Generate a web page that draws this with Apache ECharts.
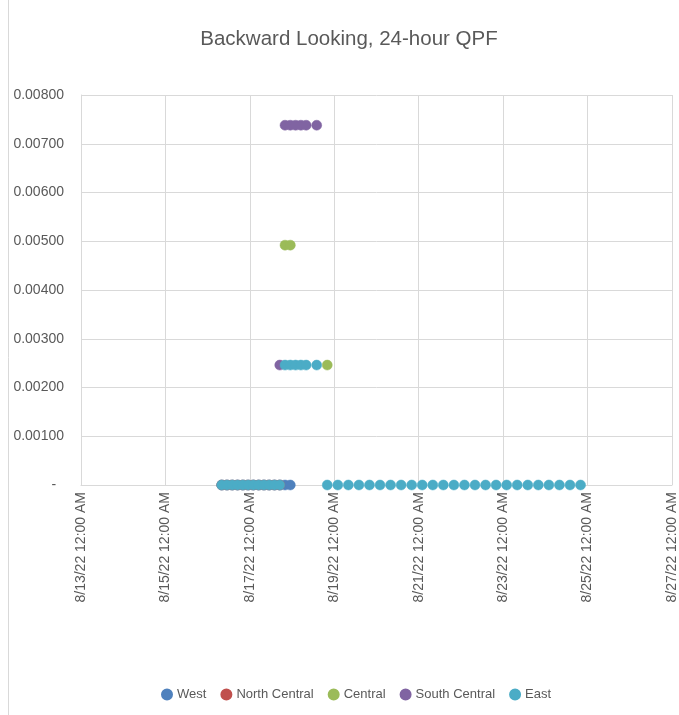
<!DOCTYPE html>
<html>
<head>
<meta charset="utf-8">
<script src="https://cdn.jsdelivr.net/npm/echarts@6/dist/echarts.min.js"></script>
<style>html,body{margin:0;padding:0;background:#fff;}#c{width:679px;height:715px;}</style>
</head>
<body>
<div id="c"></div>
<script>
const seriesNames = ['West', 'North Central', 'Central', 'South Central', 'East'];
const seriesColors = ['#4F81BD', '#C0504D', '#9BBB59', '#8064A2', '#4BACC6'];
const yTicks = [0, 0.001, 0.002, 0.003, 0.004, 0.005, 0.006, 0.007, 0.008];
const xMin = '2022-08-13 00:00';
const xMax = '2022-08-27 00:00';

const westData = [
  ['2022-08-16 08:00', 0], ['2022-08-16 11:00', 0], ['2022-08-16 14:00', 0], ['2022-08-16 17:00', 0],
  ['2022-08-16 20:00', 0], ['2022-08-16 23:00', 0], ['2022-08-17 02:00', 0], ['2022-08-17 05:00', 0],
  ['2022-08-17 08:00', 0], ['2022-08-17 11:00', 0], ['2022-08-17 14:00', 0], ['2022-08-17 17:00', 0],
  ['2022-08-17 20:00', 0], ['2022-08-17 23:00', 0]
];
const northCentralData = [
  ['2022-08-16 08:00', 0], ['2022-08-16 11:00', 0], ['2022-08-16 14:00', 0], ['2022-08-16 17:00', 0],
  ['2022-08-16 20:00', 0], ['2022-08-16 23:00', 0], ['2022-08-17 02:00', 0], ['2022-08-17 05:00', 0],
  ['2022-08-17 08:00', 0], ['2022-08-17 11:00', 0], ['2022-08-17 14:00', 0], ['2022-08-17 17:00', 0]
];
const centralData = [
  ['2022-08-17 20:00', 0.00492], ['2022-08-17 23:00', 0.00492], ['2022-08-18 20:00', 0.00246]
];
const southCentralData = [
  ['2022-08-17 17:00', 0.00246],
  ['2022-08-17 20:00', 0.00738], ['2022-08-17 23:00', 0.00738], ['2022-08-18 02:00', 0.00738],
  ['2022-08-18 05:00', 0.00738], ['2022-08-18 08:00', 0.00738], ['2022-08-18 14:00', 0.00738]
];
const eastData = [
  ['2022-08-16 08:00', 0], ['2022-08-16 11:00', 0], ['2022-08-16 14:00', 0], ['2022-08-16 17:00', 0],
  ['2022-08-16 20:00', 0], ['2022-08-16 23:00', 0], ['2022-08-17 02:00', 0], ['2022-08-17 05:00', 0],
  ['2022-08-17 08:00', 0], ['2022-08-17 11:00', 0], ['2022-08-17 14:00', 0], ['2022-08-17 17:00', 0],
  ['2022-08-17 20:00', 0.00246], ['2022-08-17 23:00', 0.00246], ['2022-08-18 02:00', 0.00246],
  ['2022-08-18 05:00', 0.00246], ['2022-08-18 08:00', 0.00246], ['2022-08-18 14:00', 0.00246],
  ['2022-08-18 20:00', 0], ['2022-08-19 02:00', 0], ['2022-08-19 08:00', 0], ['2022-08-19 14:00', 0],
  ['2022-08-19 20:00', 0], ['2022-08-20 02:00', 0], ['2022-08-20 08:00', 0], ['2022-08-20 14:00', 0],
  ['2022-08-20 20:00', 0], ['2022-08-21 02:00', 0], ['2022-08-21 08:00', 0], ['2022-08-21 14:00', 0],
  ['2022-08-21 20:00', 0], ['2022-08-22 02:00', 0], ['2022-08-22 08:00', 0], ['2022-08-22 14:00', 0],
  ['2022-08-22 20:00', 0], ['2022-08-23 02:00', 0], ['2022-08-23 08:00', 0], ['2022-08-23 14:00', 0],
  ['2022-08-23 20:00', 0], ['2022-08-24 02:00', 0], ['2022-08-24 08:00', 0], ['2022-08-24 14:00', 0],
  ['2022-08-24 20:00', 0]
];
const allData = [westData, northCentralData, centralData, southCentralData, eastData];

const chart = echarts.init(document.getElementById('c'), null, {renderer: 'canvas'});
const font = 'Liberation Sans, Arial, sans-serif';
const textColor = '#595959';
const gridColor = '#D9D9D9';

function fmtDate(v) {
  const d = new Date(v);
  const yy = String(d.getFullYear()).slice(-2);
  return (d.getMonth() + 1) + '/' + d.getDate() + '/' + yy + ' 12:00 AM';
}

chart.setOption({
  animation: false,
  backgroundColor: '#fff',
  title: {
    text: 'Backward Looking, 24-hour QPF',
    left: 344, top: 24, textAlign: 'center',
    textStyle: {fontFamily: font, fontSize: 20.5, fontWeight: 'normal', color: textColor}
  },
  legend: {
    bottom: 9, left: 156,
    icon: 'circle', itemWidth: 10, itemHeight: 10, itemGap: 14,
    textStyle: {fontFamily: font, fontSize: 13, color: textColor},
    data: seriesNames
  },
  grid: {left: 81, right: 7, top: 95, bottom: 230, containLabel: false},
  xAxis: {
    type: 'time',
    min: xMin, max: xMax,
    interval: 2 * 24 * 3600 * 1000,
    axisLine: {show: true, lineStyle: {color: gridColor}},
    axisTick: {show: false},
    splitLine: {show: true, lineStyle: {color: gridColor}},
    axisLabel: {
      rotate: 90, margin: 7, color: textColor, fontFamily: font, fontSize: 14,
      formatter: fmtDate, showMinLabel: true, showMaxLabel: true, hideOverlap: false
    }
  },
  yAxis: {
    type: 'value',
    min: yTicks[0], max: yTicks[yTicks.length - 1], interval: 0.001,
    axisLine: {show: true, lineStyle: {color: gridColor}},
    axisTick: {show: false},
    splitLine: {show: true, lineStyle: {color: gridColor}},
    axisLabel: {
      margin: 17, color: textColor, fontFamily: font, fontSize: 14,
      formatter: function (v) { return v === 0 ? '-  ' : v.toFixed(5); }
    }
  },
  graphic: [
    {type: 'line', shape: {x1: 8.5, y1: 0, x2: 8.5, y2: 715}, style: {stroke: '#D9D9D9', lineWidth: 1}, silent: true}
  ],
  series: seriesNames.map(function (name, i) {
    return {
      name: name, type: 'scatter', data: allData[i],
      symbol: 'circle', symbolSize: 10,
      itemStyle: {color: seriesColors[i], borderColor: seriesColors[i], borderWidth: 0.5, opacity: 1},
      emphasis: {disabled: true}
    };
  })
});
</script>
</body>
</html>
